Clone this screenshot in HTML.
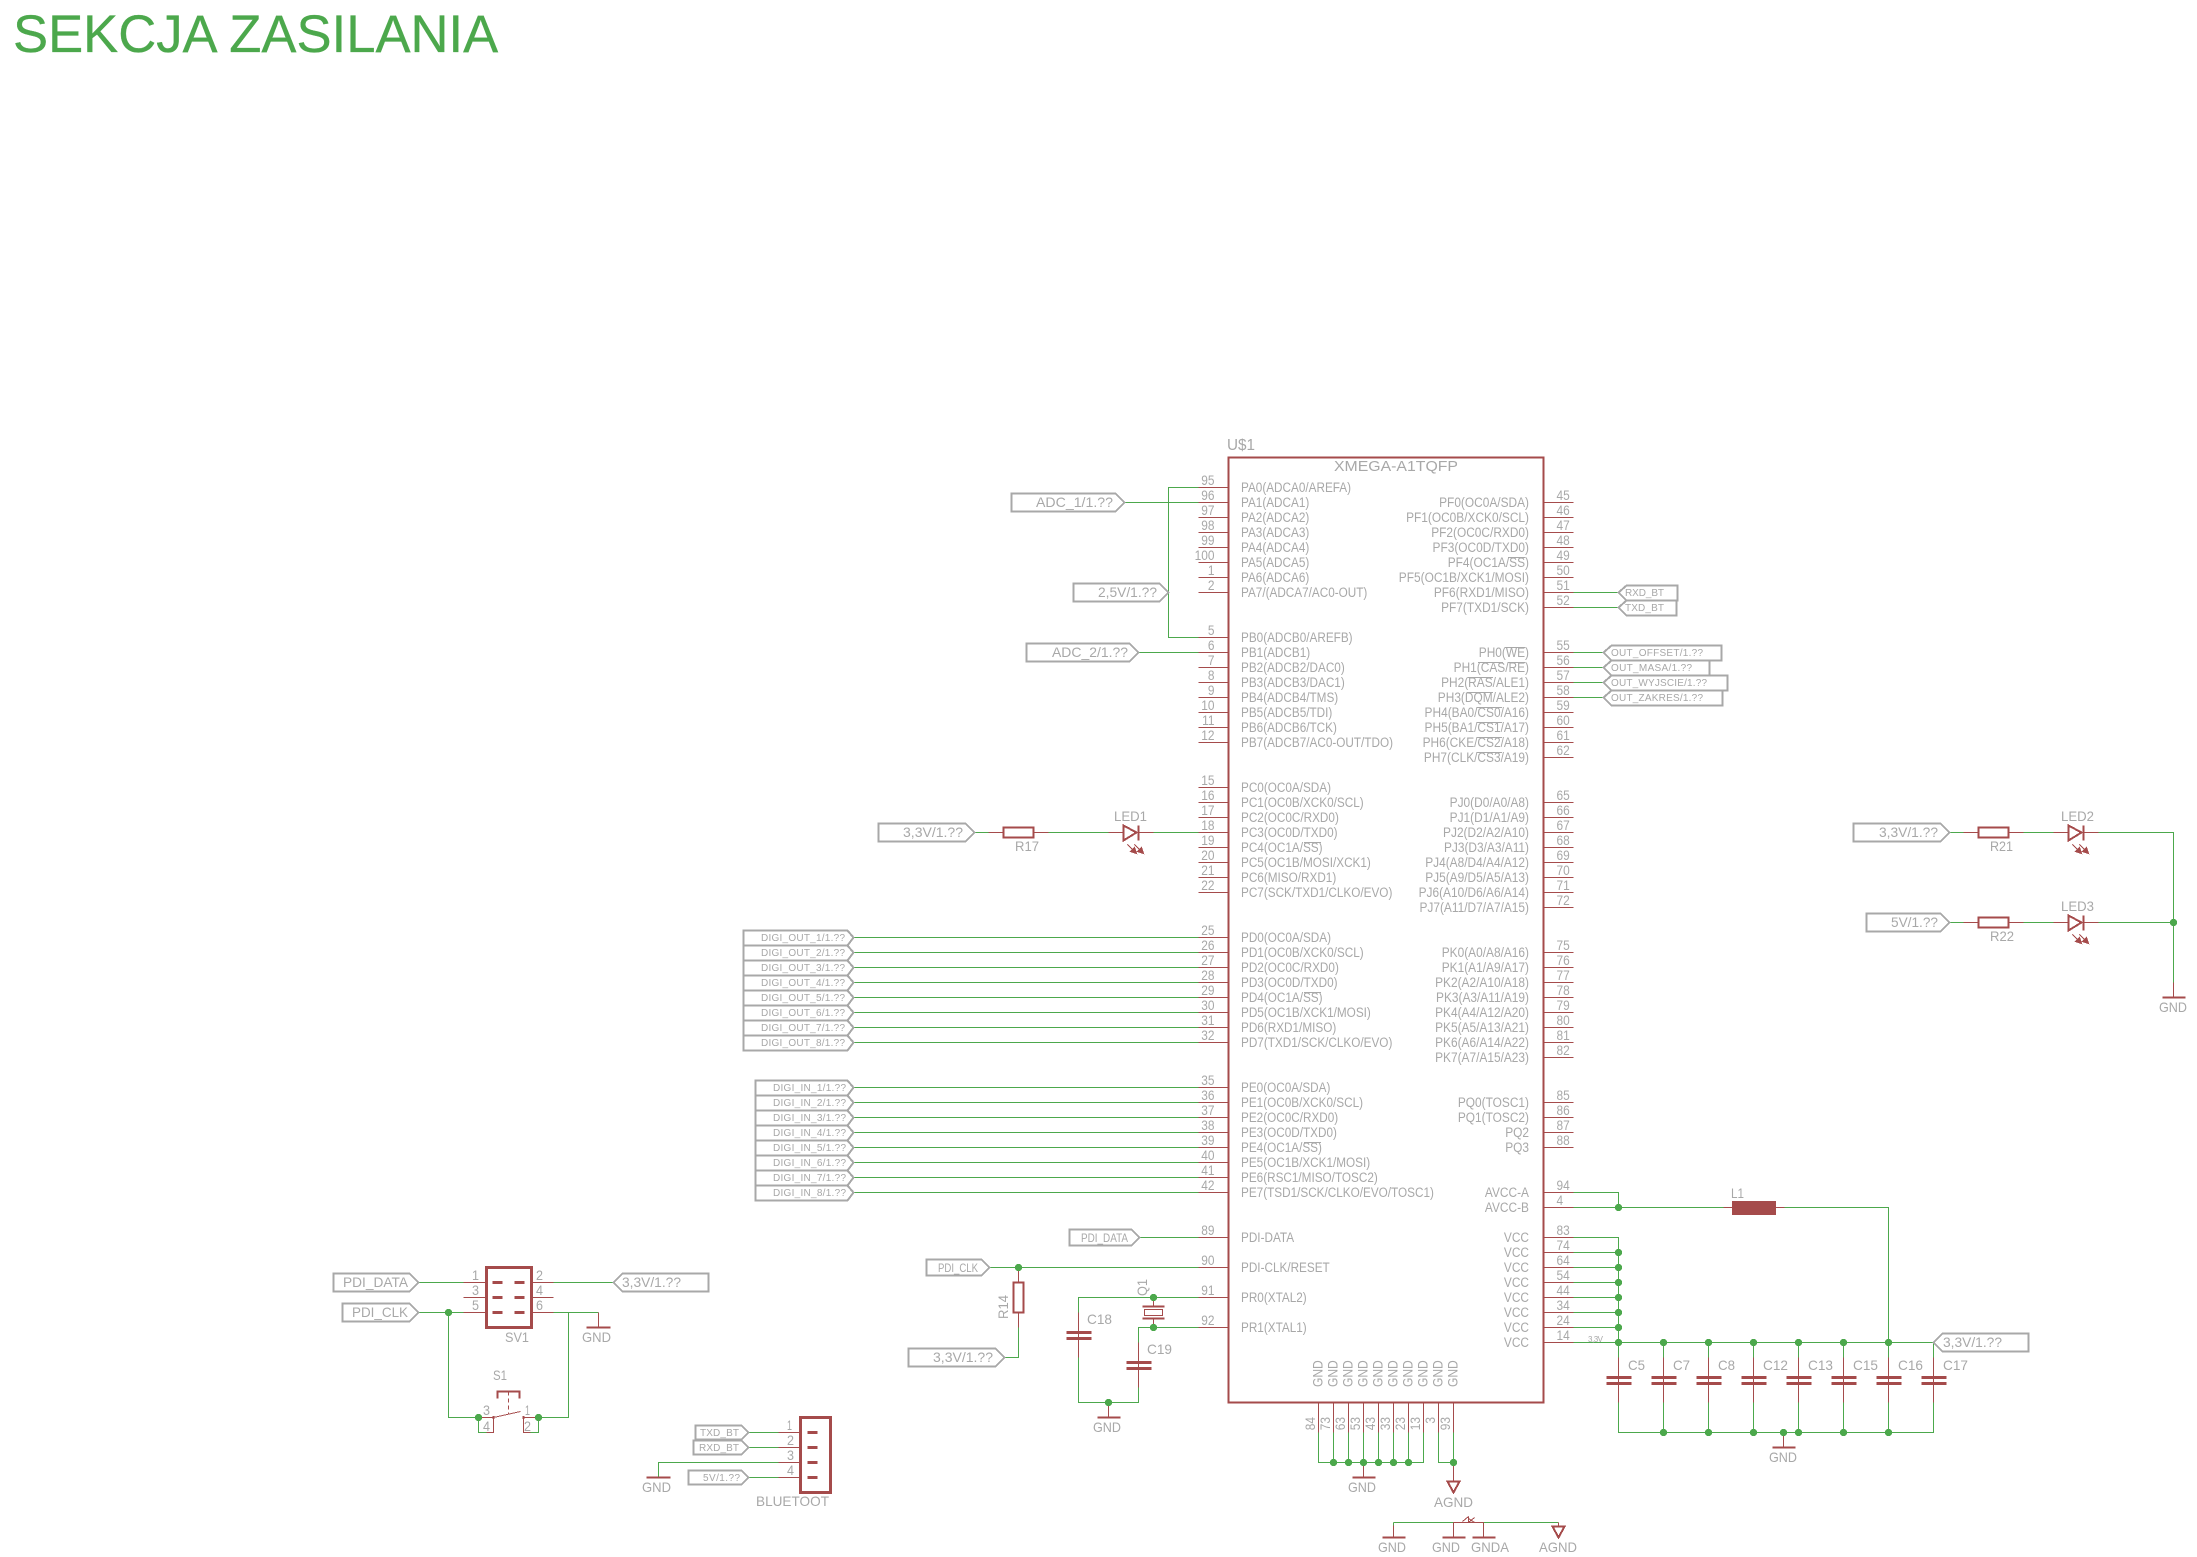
<!DOCTYPE html>
<html><head><meta charset="utf-8"><style>
html,body{margin:0;padding:0;background:#fff;width:2197px;height:1557px;overflow:hidden}
svg{display:block;font-family:"Liberation Sans",sans-serif}
text{fill:#a8a8a8;stroke:none;font-size:14px}
.s{font-size:10px}.m{font-size:12px}.b{font-size:15px}
</style></head><body>
<svg width="2197" height="1557" viewBox="0 0 2197 1557" xmlns="http://www.w3.org/2000/svg">
<text x="13" y="52" style="font-size:52.6px;fill:#4ca84c;stroke:#4ca84c;stroke-width:.3">SEKCJA ZASILANIA</text>
<g transform="translate(.5 .5)">

<!-- green wires -->
<g fill="none" stroke="#4ca84c" stroke-width="1" shape-rendering="crispEdges">
<path d="M1198 487H1168V637H1198M1124 502H1198M1138 652H1198M974 832H988M1048 832H1108M1153 832H1198"/>
<path d="M853 937H1198M853 952H1198M853 967H1198M853 982H1198M853 997H1198M853 1012H1198M853 1027H1198M853 1042H1198"/>
<path d="M853 1087H1198M853 1102H1198M853 1117H1198M853 1132H1198M853 1147H1198M853 1162H1198M853 1177H1198M853 1192H1198"/>
<path d="M1139 1237H1198M989 1267H1198M1018 1327V1357H1004M1078 1312V1297H1198M1078 1357V1402H1138V1387M1138 1342V1327H1198"/>
<path d="M1573 592H1618M1573 607H1618M1573 652H1603M1573 667H1603M1573 682H1603M1573 697H1603"/>
<path d="M1573 1192H1618V1207M1573 1207H1723M1784 1207H1888V1342"/>
<path d="M1573 1237H1618V1342M1573 1252H1618M1573 1267H1618M1573 1282H1618M1573 1297H1618M1573 1312H1618M1573 1327H1618M1573 1342H1933"/>
<path d="M1618 1342V1357M1663 1342V1357M1708 1342V1357M1753 1342V1357M1798 1342V1357M1843 1342V1357M1888 1342V1357M1933 1342V1357"/>
<path d="M1618 1402V1432H1933V1402M1663 1402V1432M1708 1402V1432M1753 1402V1432M1798 1402V1432M1843 1402V1432M1888 1402V1432"/>
<path d="M1318 1432V1462H1423V1432M1333 1432V1462M1348 1432V1462M1363 1432V1462M1378 1432V1462M1393 1432V1462M1408 1432V1462"/>
<path d="M1438 1432V1462H1453M1453 1432V1481"/>
<path d="M1393 1522H1558M1393 1522V1525"/>
<path d="M1949 832H1963M2023 832H2053M2098 832H2173V982M1949 922H1963M2023 922H2053M2098 922H2173"/>
<path d="M418 1282H463M553 1282H613M418 1312H463M553 1312H598M568 1312V1417H538M448 1312V1417H493M478 1417V1432H486M538 1417V1432H530"/>
<path d="M748 1432H778M748 1447H778M748 1477H778M778 1462H658V1477"/>
</g>

<!-- red pins & symbols -->
<g fill="none" stroke="#a54b4b" stroke-width="1" shape-rendering="crispEdges">
<path d="M1198 487h30M1198 502h30M1198 517h30M1198 532h30M1198 547h30M1198 562h30M1198 577h30M1198 592h30
M1198 637h30M1198 652h30M1198 667h30M1198 682h30M1198 697h30M1198 712h30M1198 727h30M1198 742h30
M1198 787h30M1198 802h30M1198 817h30M1198 832h30M1198 847h30M1198 862h30M1198 877h30M1198 892h30
M1198 937h30M1198 952h30M1198 967h30M1198 982h30M1198 997h30M1198 1012h30M1198 1027h30M1198 1042h30
M1198 1087h30M1198 1102h30M1198 1117h30M1198 1132h30M1198 1147h30M1198 1162h30M1198 1177h30M1198 1192h30
M1198 1237h30M1198 1267h30M1198 1297h30M1198 1327h30"/>
<path d="M1543 502h30M1543 517h30M1543 532h30M1543 547h30M1543 562h30M1543 577h30M1543 592h30M1543 607h30
M1543 652h30M1543 667h30M1543 682h30M1543 697h30M1543 712h30M1543 727h30M1543 742h30M1543 757h30
M1543 802h30M1543 817h30M1543 832h30M1543 847h30M1543 862h30M1543 877h30M1543 892h30M1543 907h30
M1543 952h30M1543 967h30M1543 982h30M1543 997h30M1543 1012h30M1543 1027h30M1543 1042h30M1543 1057h30
M1543 1102h30M1543 1117h30M1543 1132h30M1543 1147h30M1543 1192h30M1543 1207h30
M1543 1237h30M1543 1252h30M1543 1267h30M1543 1282h30M1543 1297h30M1543 1312h30M1543 1327h30M1543 1342h30"/>
<path d="M1318 1402v30M1333 1402v30M1348 1402v30M1363 1402v30M1378 1402v30M1393 1402v30M1408 1402v30M1423 1402v30M1438 1402v30M1453 1402v30"/>
<rect x="1228" y="457" width="315" height="945" stroke-width="2"/>
<!-- GND symbols -->
<path d="M1363 1462V1477M1393 1525V1537M1453 1522V1537M1483 1522V1537M1108 1402V1417M1783 1432V1447M598 1312V1327M2173 982V997"/>
<path stroke-width="2" d="M1352 1477H1375M1382 1537H1405M1442 1537H1465M1472 1537H1495M1097 1417H1120M1772 1447H1795M586 1327H610M646 1477H670M2162 997H2185"/>
<!-- AGND -->
<path stroke-width="2" d="M1447 1481H1459L1453 1492ZM1552 1526H1564L1558 1537Z"/>
<path d="M1558 1522V1526M1453 1462V1481"/>
<!-- net bridge star -->
<path d="M1453 1522H1483M1462 1521L1468 1516M1468 1516V1522M1468 1518L1474 1522M1474 1517L1468 1522"/>
<!-- caps -->
<path d="M1618 1357V1402M1663 1357V1402M1708 1357V1402M1753 1357V1402M1798 1357V1402M1843 1357V1402M1888 1357V1402M1933 1357V1402M1078 1312V1357M1138 1342V1387"/>
<path stroke-width="3" d="M1606 1377h25M1606 1383h25M1651 1377h25M1651 1383h25M1696 1377h25M1696 1383h25M1741 1377h25M1741 1383h25M1786 1377h25M1786 1383h25M1831 1377h25M1831 1383h25M1876 1377h25M1876 1383h25M1921 1377h25M1921 1383h25M1066 1332h25M1066 1338h25M1126 1362h25M1126 1368h25"/>
<!-- L1 -->
<path d="M1723 1207H1732M1775 1207H1784"/>
<rect x="1732" y="1201" width="43" height="13" fill="#a54b4b"/>
<!-- R14 -->
<path d="M1018 1267V1282M1018 1312V1327"/>
<rect x="1013" y="1282" width="10" height="30" stroke-width="2"/>
<!-- Q1 -->
<path d="M1153 1297V1306M1153 1318V1327"/>
<path stroke-width="2" d="M1142 1306H1164M1142 1318H1164"/>
<rect x="1144" y="1309" width="18" height="6"/>
<!-- R17 / LED1 -->
<path d="M988 832H1003M1033 832H1048M1108 832H1123M1138 832H1153"/>
<rect x="1003" y="827" width="30" height="10" stroke-width="2"/>
<path stroke-width="2" d="M1123 825V840L1136 832ZM1138 825V840"/>
<path d="M1127 844L1134 851M1134 844L1141 851"/>
<path fill="#a54b4b" d="M1136 853L1130 851L1134 847ZM1143 853L1137 851L1141 847Z"/>
<!-- R21 / LED2 -->
<path d="M1963 832H1978M2008 832H2023M2053 832H2068M2083 832H2098"/>
<rect x="1978" y="827" width="30" height="10" stroke-width="2"/>
<path stroke-width="2" d="M2068 825V840L2081 832ZM2083 825V840"/>
<path d="M2072 844L2079 851M2079 844L2086 851"/>
<path fill="#a54b4b" d="M2081 853L2075 851L2079 847ZM2088 853L2082 851L2086 847Z"/>
<!-- R22 / LED3 -->
<path d="M1963 922H1978M2008 922H2023M2053 922H2068M2083 922H2098"/>
<rect x="1978" y="917" width="30" height="10" stroke-width="2"/>
<path stroke-width="2" d="M2068 915V930L2081 922ZM2083 915V930"/>
<path d="M2072 934L2079 941M2079 934L2086 941"/>
<path fill="#a54b4b" d="M2081 943L2075 941L2079 937ZM2088 943L2082 941L2086 937Z"/>
<!-- SV1 -->
<rect x="486" y="1267" width="45" height="60" stroke-width="3"/>
<path d="M463 1282H486M463 1297H486M463 1312H486M531 1282H553M531 1297H553M531 1312H553"/>
<path stroke-width="3" d="M492 1282h10M492 1297h10M492 1312h10M514 1282h10M514 1297h10M514 1312h10"/>
<!-- S1 -->
<path d="M478 1417H493M493 1417V1432H486M523 1417H538M523 1417V1432H530M493 1417L520 1411" />
<path stroke-width="2" d="M497 1398V1391H519V1398"/>
<path stroke-dasharray="4 3" d="M508 1391V1413"/>
<path stroke-width="3" d="M492 1417h2M522 1417h2"/>
<!-- Bluetooth -->
<rect x="800" y="1417" width="30" height="75" stroke-width="3"/>
<path d="M778 1432H800M778 1447H800M778 1462H800M778 1477H800"/>
<path stroke-width="3" d="M807 1432h10M807 1447h10M807 1462h10M807 1477h10"/>
</g>

<!-- junctions -->
<g fill="#4ca84c" shape-rendering="crispEdges">
<circle cx="1018" cy="1267" r="3.7"/><circle cx="1153" cy="1297" r="3.7"/><circle cx="1153" cy="1327" r="3.7"/><circle cx="1108" cy="1402" r="3.7"/>
<circle cx="1618" cy="1207" r="3.7"/><circle cx="1618" cy="1252" r="3.7"/><circle cx="1618" cy="1267" r="3.7"/><circle cx="1618" cy="1282" r="3.7"/><circle cx="1618" cy="1297" r="3.7"/><circle cx="1618" cy="1312" r="3.7"/><circle cx="1618" cy="1327" r="3.7"/><circle cx="1618" cy="1342" r="3.7"/>
<circle cx="1663" cy="1342" r="3.7"/><circle cx="1708" cy="1342" r="3.7"/><circle cx="1753" cy="1342" r="3.7"/><circle cx="1798" cy="1342" r="3.7"/><circle cx="1843" cy="1342" r="3.7"/><circle cx="1888" cy="1342" r="3.7"/>
<circle cx="1663" cy="1432" r="3.7"/><circle cx="1708" cy="1432" r="3.7"/><circle cx="1753" cy="1432" r="3.7"/><circle cx="1783" cy="1432" r="3.7"/><circle cx="1798" cy="1432" r="3.7"/><circle cx="1843" cy="1432" r="3.7"/><circle cx="1888" cy="1432" r="3.7"/>
<circle cx="1333" cy="1462" r="3.7"/><circle cx="1348" cy="1462" r="3.7"/><circle cx="1363" cy="1462" r="3.7"/><circle cx="1378" cy="1462" r="3.7"/><circle cx="1393" cy="1462" r="3.7"/><circle cx="1408" cy="1462" r="3.7"/><circle cx="1453" cy="1462" r="3.7"/>
<circle cx="2173" cy="922" r="3.7"/><circle cx="448" cy="1312" r="3.7"/><circle cx="478" cy="1417" r="3.7"/><circle cx="538" cy="1417" r="3.7"/>
</g>

<!-- tags -->
<g fill="#fff" stroke="#a8a8a8" stroke-width="2" shape-rendering="crispEdges">
<path d="M1011 493H1115L1124 502L1115 511H1011Z"/>
<path d="M1073 583H1159L1168 592L1159 601H1073Z"/>
<path d="M1026 643H1129L1138 652L1129 661H1026Z"/>
<path d="M878 823H965L974 832L965 841H878Z"/>
<path d="M1069 1229H1131L1139 1237L1131 1245H1069Z"/>
<path d="M926 1259H981L989 1267L981 1275H926Z"/>
<path d="M908 1348H995L1004 1357L995 1366H908Z"/>
<path d="M333 1273H409L418 1282L409 1291H333Z"/>
<path d="M342 1303H409L418 1312L409 1321H342Z"/>
<path d="M613 1282L622 1273H708V1291H622Z"/>
<path d="M695 1425H741L748 1432L741 1439H695Z"/>
<path d="M693 1440H741L748 1447L741 1454H693Z"/>
<path d="M688 1470H741L748 1477L741 1484H688Z"/>
<path d="M1618 592L1626 585H1677V600H1626Z"/>
<path d="M1618 607L1626 600H1676V615H1626Z"/>
<path d="M1603 652L1611 645H1721V660H1611Z"/>
<path d="M1603 667L1611 660H1709V675H1611Z"/>
<path d="M1603 682L1611 675H1727V690H1611Z"/>
<path d="M1603 697L1611 690H1722V705H1611Z"/>
<path d="M1933 1342L1942 1333H2028V1351H1942Z"/>
<path d="M1853 823H1940L1949 832L1940 841H1853Z"/>
<path d="M1866 913H1940L1949 922L1940 931H1866Z"/>
<path d="M743 930H847L853 937L847 945H743Z"/><path d="M743 945H847L853 952L847 960H743Z"/><path d="M743 960H847L853 967L847 975H743Z"/><path d="M743 975H847L853 982L847 990H743Z"/><path d="M743 990H847L853 997L847 1005H743Z"/><path d="M743 1005H847L853 1012L847 1020H743Z"/><path d="M743 1020H847L853 1027L847 1035H743Z"/><path d="M743 1035H847L853 1042L847 1050H743Z"/>
<path d="M755 1080H847L853 1087L847 1095H755Z"/><path d="M755 1095H847L853 1102L847 1110H755Z"/><path d="M755 1110H847L853 1117L847 1125H755Z"/><path d="M755 1125H847L853 1132L847 1140H755Z"/><path d="M755 1140H847L853 1147L847 1155H755Z"/><path d="M755 1155H847L853 1162L847 1170H755Z"/><path d="M755 1170H847L853 1177L847 1185H755Z"/><path d="M755 1185H847L853 1192L847 1200H755Z"/>
</g>
</g>

<!-- overbars -->
<path fill="none" stroke="#a8a8a8" stroke-width="1" shape-rendering="crispEdges" d="M1304 842.5H1321M1304 992.5H1321M1304 1142.5H1321M1508 557.5H1525M1505 647.5H1525M1478 662.5H1503M1508 662.5H1525M1468 677.5H1493M1467 692.5H1493M1477 707.5H1502M1477 722.5H1502M1477 737.5H1502M1477 752.5H1502"/>

<!-- tag text -->
<g>
<text x="1036" y="507" textLength="77" lengthAdjust="spacingAndGlyphs">ADC_1/1.??</text>
<text x="1098" y="597" textLength="59" lengthAdjust="spacingAndGlyphs">2,5V/1.??</text>
<text x="1052" y="657" textLength="76" lengthAdjust="spacingAndGlyphs">ADC_2/1.??</text>
<text x="903" y="837" textLength="60" lengthAdjust="spacingAndGlyphs">3,3V/1.??</text>
<text class="m" x="1081" y="1242" textLength="47" lengthAdjust="spacingAndGlyphs">PDI_DATA</text>
<text class="m" x="938" y="1272" textLength="40" lengthAdjust="spacingAndGlyphs">PDI_CLK</text>
<text x="933" y="1362" textLength="60" lengthAdjust="spacingAndGlyphs">3,3V/1.??</text>
<text x="343" y="1287" textLength="65" lengthAdjust="spacingAndGlyphs">PDI_DATA</text>
<text x="352" y="1317" textLength="56" lengthAdjust="spacingAndGlyphs">PDI_CLK</text>
<text x="622" y="1287" textLength="59" lengthAdjust="spacingAndGlyphs">3,3V/1.??</text>
<text class="s" x="700" y="1436" textLength="39">TXD_BT</text>
<text class="s" x="699" y="1451" textLength="40">RXD_BT</text>
<text class="s" x="703" y="1481" textLength="37">5V/1.??</text>
<text class="s" x="1625" y="596" textLength="39">RXD_BT</text>
<text class="s" x="1625" y="611" textLength="39">TXD_BT</text>
<text class="s" x="1611" y="656" textLength="92">OUT_OFFSET/1.??</text>
<text class="s" x="1611" y="671" textLength="81">OUT_MASA/1.??</text>
<text class="s" x="1611" y="686" textLength="96">OUT_WYJSCIE/1.??</text>
<text class="s" x="1611" y="701" textLength="92">OUT_ZAKRES/1.??</text>
<text x="1943" y="1347" textLength="59" lengthAdjust="spacingAndGlyphs">3,3V/1.??</text>
<text x="1879" y="837" textLength="59" lengthAdjust="spacingAndGlyphs">3,3V/1.??</text>
<text x="1891" y="927" textLength="47" lengthAdjust="spacingAndGlyphs">5V/1.??</text>
<text class="s" x="761" y="941" textLength="84">DIGI_OUT_1/1.??</text>
<text class="s" x="761" y="956" textLength="84">DIGI_OUT_2/1.??</text>
<text class="s" x="761" y="971" textLength="84">DIGI_OUT_3/1.??</text>
<text class="s" x="761" y="986" textLength="84">DIGI_OUT_4/1.??</text>
<text class="s" x="761" y="1001" textLength="84">DIGI_OUT_5/1.??</text>
<text class="s" x="761" y="1016" textLength="84">DIGI_OUT_6/1.??</text>
<text class="s" x="761" y="1031" textLength="84">DIGI_OUT_7/1.??</text>
<text class="s" x="761" y="1046" textLength="84">DIGI_OUT_8/1.??</text>
<text class="s" x="773" y="1091" textLength="73">DIGI_IN_1/1.??</text>
<text class="s" x="773" y="1106" textLength="73">DIGI_IN_2/1.??</text>
<text class="s" x="773" y="1121" textLength="73">DIGI_IN_3/1.??</text>
<text class="s" x="773" y="1136" textLength="73">DIGI_IN_4/1.??</text>
<text class="s" x="773" y="1151" textLength="73">DIGI_IN_5/1.??</text>
<text class="s" x="773" y="1166" textLength="73">DIGI_IN_6/1.??</text>
<text class="s" x="773" y="1181" textLength="73">DIGI_IN_7/1.??</text>
<text class="s" x="773" y="1196" textLength="73">DIGI_IN_8/1.??</text>
</g>

<!-- component labels -->
<g>
<text style="font-size:16px" x="1227" y="450" textLength="28" lengthAdjust="spacingAndGlyphs">U$1</text>
<text class="b" x="1334" y="471" textLength="124" lengthAdjust="spacingAndGlyphs">XMEGA-A1TQFP</text>
<text x="1015" y="851" textLength="24" lengthAdjust="spacingAndGlyphs">R17</text>
<text x="1114" y="821" textLength="33" lengthAdjust="spacingAndGlyphs">LED1</text>
<text x="1990" y="851" textLength="23" lengthAdjust="spacingAndGlyphs">R21</text>
<text x="2061" y="821" textLength="33" lengthAdjust="spacingAndGlyphs">LED2</text>
<text x="1990" y="941" textLength="24" lengthAdjust="spacingAndGlyphs">R22</text>
<text x="2061" y="911" textLength="33" lengthAdjust="spacingAndGlyphs">LED3</text>
<text x="1731" y="1198" textLength="13" lengthAdjust="spacingAndGlyphs">L1</text>
<text x="1087" y="1324" textLength="25" lengthAdjust="spacingAndGlyphs">C18</text>
<text x="1147" y="1354" textLength="25" lengthAdjust="spacingAndGlyphs">C19</text>
<text transform="translate(1008 1319) rotate(-90)" textLength="24" lengthAdjust="spacingAndGlyphs">R14</text>
<text transform="translate(1147 1296) rotate(-90)" textLength="17" lengthAdjust="spacingAndGlyphs">Q1</text>
<text x="1628" y="1370" textLength="17" lengthAdjust="spacingAndGlyphs">C5</text>
<text x="1673" y="1370" textLength="17" lengthAdjust="spacingAndGlyphs">C7</text>
<text x="1718" y="1370" textLength="17" lengthAdjust="spacingAndGlyphs">C8</text>
<text x="1763" y="1370" textLength="25" lengthAdjust="spacingAndGlyphs">C12</text>
<text x="1808" y="1370" textLength="25" lengthAdjust="spacingAndGlyphs">C13</text>
<text x="1853" y="1370" textLength="25" lengthAdjust="spacingAndGlyphs">C15</text>
<text x="1898" y="1370" textLength="25" lengthAdjust="spacingAndGlyphs">C16</text>
<text x="1943" y="1370" textLength="25" lengthAdjust="spacingAndGlyphs">C17</text>
<text x="1093" y="1432" textLength="28" lengthAdjust="spacingAndGlyphs">GND</text>
<text x="1769" y="1462" textLength="28" lengthAdjust="spacingAndGlyphs">GND</text>
<text x="1348" y="1492" textLength="28" lengthAdjust="spacingAndGlyphs">GND</text>
<text x="1434" y="1507" textLength="39" lengthAdjust="spacingAndGlyphs">AGND</text>
<text x="1378" y="1552" textLength="28" lengthAdjust="spacingAndGlyphs">GND</text>
<text x="1432" y="1552" textLength="28" lengthAdjust="spacingAndGlyphs">GND</text>
<text x="1471" y="1552" textLength="38" lengthAdjust="spacingAndGlyphs">GNDA</text>
<text x="1539" y="1552" textLength="38" lengthAdjust="spacingAndGlyphs">AGND</text>
<text x="2159" y="1012" textLength="28" lengthAdjust="spacingAndGlyphs">GND</text>
<text x="582" y="1342" textLength="29" lengthAdjust="spacingAndGlyphs">GND</text>
<text x="642" y="1492" textLength="29" lengthAdjust="spacingAndGlyphs">GND</text>
<text x="505" y="1342" textLength="24" lengthAdjust="spacingAndGlyphs">SV1</text>
<text x="493" y="1380" textLength="14" lengthAdjust="spacingAndGlyphs">S1</text>
<text x="756" y="1506" textLength="73" lengthAdjust="spacingAndGlyphs">BLUETOOT</text>
<text x="1588" y="1342" style="font-size:8px" textLength="15">3,3V</text>
<text x="472" y="1280" textLength="7" lengthAdjust="spacingAndGlyphs">1</text>
<text x="472" y="1295" textLength="7" lengthAdjust="spacingAndGlyphs">3</text>
<text x="472" y="1310" textLength="7" lengthAdjust="spacingAndGlyphs">5</text>
<text x="536" y="1280" textLength="7" lengthAdjust="spacingAndGlyphs">2</text>
<text x="536" y="1295" textLength="7" lengthAdjust="spacingAndGlyphs">4</text>
<text x="536" y="1310" textLength="7" lengthAdjust="spacingAndGlyphs">6</text>
<text x="483" y="1415" textLength="7" lengthAdjust="spacingAndGlyphs">3</text>
<text x="483" y="1431" textLength="7" lengthAdjust="spacingAndGlyphs">4</text>
<text x="525" y="1415" textLength="5" lengthAdjust="spacingAndGlyphs">1</text>
<text x="524" y="1431" textLength="7" lengthAdjust="spacingAndGlyphs">2</text>
<text x="787" y="1430" textLength="5" lengthAdjust="spacingAndGlyphs">1</text>
<text x="787" y="1445" textLength="7" lengthAdjust="spacingAndGlyphs">2</text>
<text x="787" y="1460" textLength="7" lengthAdjust="spacingAndGlyphs">3</text>
<text x="787" y="1475" textLength="7" lengthAdjust="spacingAndGlyphs">4</text>
</g>

<!-- left chip labels -->
<g transform="translate(1241 0) scale(.84 1)">
<text y="492">PA0(ADCA0/AREFA)</text><text y="507">PA1(ADCA1)</text><text y="522">PA2(ADCA2)</text><text y="537">PA3(ADCA3)</text><text y="552">PA4(ADCA4)</text><text y="567">PA5(ADCA5)</text><text y="582">PA6(ADCA6)</text><text y="597">PA7/(ADCA7/AC0-OUT)</text>
<text y="642">PB0(ADCB0/AREFB)</text><text y="657">PB1(ADCB1)</text><text y="672">PB2(ADCB2/DAC0)</text><text y="687">PB3(ADCB3/DAC1)</text><text y="702">PB4(ADCB4/TMS)</text><text y="717">PB5(ADCB5/TDI)</text><text y="732">PB6(ADCB6/TCK)</text><text y="747">PB7(ADCB7/AC0-OUT/TDO)</text>
<text y="792">PC0(OC0A/SDA)</text><text y="807">PC1(OC0B/XCK0/SCL)</text><text y="822">PC2(OC0C/RXD0)</text><text y="837">PC3(OC0D/TXD0)</text><text y="852">PC4(OC1A/SS)</text><text y="867">PC5(OC1B/MOSI/XCK1)</text><text y="882">PC6(MISO/RXD1)</text><text y="897">PC7(SCK/TXD1/CLKO/EVO)</text>
<text y="942">PD0(OC0A/SDA)</text><text y="957">PD1(OC0B/XCK0/SCL)</text><text y="972">PD2(OC0C/RXD0)</text><text y="987">PD3(OC0D/TXD0)</text><text y="1002">PD4(OC1A/SS)</text><text y="1017">PD5(OC1B/XCK1/MOSI)</text><text y="1032">PD6(RXD1/MISO)</text><text y="1047">PD7(TXD1/SCK/CLKO/EVO)</text>
<text y="1092">PE0(OC0A/SDA)</text><text y="1107">PE1(OC0B/XCK0/SCL)</text><text y="1122">PE2(OC0C/RXD0)</text><text y="1137">PE3(OC0D/TXD0)</text><text y="1152">PE4(OC1A/SS)</text><text y="1167">PE5(OC1B/XCK1/MOSI)</text><text y="1182">PE6(RSC1/MISO/TOSC2)</text><text y="1197">PE7(TSD1/SCK/CLKO/EVO/TOSC1)</text>
<text y="1242">PDI-DATA</text><text y="1272">PDI-CLK/RESET</text><text y="1302">PR0(XTAL2)</text><text y="1332">PR1(XTAL1)</text>
</g>

<!-- right chip labels -->
<g transform="translate(1529 0) scale(.85 1)" text-anchor="end">
<text y="507">PF0(OC0A/SDA)</text><text y="522">PF1(OC0B/XCK0/SCL)</text><text y="537">PF2(OC0C/RXD0)</text><text y="552">PF3(OC0D/TXD0)</text><text y="567">PF4(OC1A/SS)</text><text y="582">PF5(OC1B/XCK1/MOSI)</text><text y="597">PF6(RXD1/MISO)</text><text y="612">PF7(TXD1/SCK)</text>
<text y="657">PH0(WE)</text><text y="672">PH1(CAS/RE)</text><text y="687">PH2(RAS/ALE1)</text><text y="702">PH3(DQM/ALE2)</text><text y="717">PH4(BA0/CS0/A16)</text><text y="732">PH5(BA1/CS1/A17)</text><text y="747">PH6(CKE/CS2/A18)</text><text y="762">PH7(CLK/CS3/A19)</text>
<text y="807">PJ0(D0/A0/A8)</text><text y="822">PJ1(D1/A1/A9)</text><text y="837">PJ2(D2/A2/A10)</text><text y="852">PJ3(D3/A3/A11)</text><text y="867">PJ4(A8/D4/A4/A12)</text><text y="882">PJ5(A9/D5/A5/A13)</text><text y="897">PJ6(A10/D6/A6/A14)</text><text y="912">PJ7(A11/D7/A7/A15)</text>
<text y="957">PK0(A0/A8/A16)</text><text y="972">PK1(A1/A9/A17)</text><text y="987">PK2(A2/A10/A18)</text><text y="1002">PK3(A3/A11/A19)</text><text y="1017">PK4(A4/A12/A20)</text><text y="1032">PK5(A5/A13/A21)</text><text y="1047">PK6(A6/A14/A22)</text><text y="1062">PK7(A7/A15/A23)</text>
<text y="1107">PQ0(TOSC1)</text><text y="1122">PQ1(TOSC2)</text><text y="1137">PQ2</text><text y="1152">PQ3</text>
<text y="1197">AVCC-A</text><text y="1212">AVCC-B</text>
<text y="1242">VCC</text><text y="1257">VCC</text><text y="1272">VCC</text><text y="1287">VCC</text><text y="1302">VCC</text><text y="1317">VCC</text><text y="1332">VCC</text><text y="1347">VCC</text>
</g>

<!-- left pin numbers -->
<g transform="translate(1214.5 0) scale(.85 1)" text-anchor="end">
<text y="485">95</text><text y="500">96</text><text y="515">97</text><text y="530">98</text><text y="545">99</text><text y="560">100</text><text y="575">1</text><text y="590">2</text>
<text y="635">5</text><text y="650">6</text><text y="665">7</text><text y="680">8</text><text y="695">9</text><text y="710">10</text><text y="725">11</text><text y="740">12</text>
<text y="785">15</text><text y="800">16</text><text y="815">17</text><text y="830">18</text><text y="845">19</text><text y="860">20</text><text y="875">21</text><text y="890">22</text>
<text y="935">25</text><text y="950">26</text><text y="965">27</text><text y="980">28</text><text y="995">29</text><text y="1010">30</text><text y="1025">31</text><text y="1040">32</text>
<text y="1085">35</text><text y="1100">36</text><text y="1115">37</text><text y="1130">38</text><text y="1145">39</text><text y="1160">40</text><text y="1175">41</text><text y="1190">42</text>
<text y="1235">89</text><text y="1265">90</text><text y="1295">91</text><text y="1325">92</text>
</g>

<!-- right pin numbers -->
<g transform="translate(1556.5 0) scale(.85 1)">
<text y="500">45</text><text y="515">46</text><text y="530">47</text><text y="545">48</text><text y="560">49</text><text y="575">50</text><text y="590">51</text><text y="605">52</text>
<text y="650">55</text><text y="665">56</text><text y="680">57</text><text y="695">58</text><text y="710">59</text><text y="725">60</text><text y="740">61</text><text y="755">62</text>
<text y="800">65</text><text y="815">66</text><text y="830">67</text><text y="845">68</text><text y="860">69</text><text y="875">70</text><text y="890">71</text><text y="905">72</text>
<text y="950">75</text><text y="965">76</text><text y="980">77</text><text y="995">78</text><text y="1010">79</text><text y="1025">80</text><text y="1040">81</text><text y="1055">82</text>
<text y="1100">85</text><text y="1115">86</text><text y="1130">87</text><text y="1145">88</text>
<text y="1190">94</text><text y="1205">4</text>
<text y="1235">83</text><text y="1250">74</text><text y="1265">64</text><text y="1280">54</text><text y="1295">44</text><text y="1310">34</text><text y="1325">24</text><text y="1340">14</text>
</g>

<!-- rotated GND inside chip -->
<g>
<text transform="translate(1322.5 1387) rotate(-90) scale(.86 1)">GND</text>
<text transform="translate(1337.5 1387) rotate(-90) scale(.86 1)">GND</text>
<text transform="translate(1352.5 1387) rotate(-90) scale(.86 1)">GND</text>
<text transform="translate(1367.5 1387) rotate(-90) scale(.86 1)">GND</text>
<text transform="translate(1382.5 1387) rotate(-90) scale(.86 1)">GND</text>
<text transform="translate(1397.5 1387) rotate(-90) scale(.86 1)">GND</text>
<text transform="translate(1412.5 1387) rotate(-90) scale(.86 1)">GND</text>
<text transform="translate(1427.5 1387) rotate(-90) scale(.86 1)">GND</text>
<text transform="translate(1442.5 1387) rotate(-90) scale(.86 1)">GND</text>
<text transform="translate(1457.5 1387) rotate(-90) scale(.86 1)">GND</text>
</g>
<g text-anchor="end">
<text transform="translate(1315 1417) rotate(-90) scale(.85 1)">84</text>
<text transform="translate(1330 1417) rotate(-90) scale(.85 1)">73</text>
<text transform="translate(1345 1417) rotate(-90) scale(.85 1)">63</text>
<text transform="translate(1360 1417) rotate(-90) scale(.85 1)">53</text>
<text transform="translate(1375 1417) rotate(-90) scale(.85 1)">43</text>
<text transform="translate(1390 1417) rotate(-90) scale(.85 1)">33</text>
<text transform="translate(1405 1417) rotate(-90) scale(.85 1)">23</text>
<text transform="translate(1420 1417) rotate(-90) scale(.85 1)">13</text>
<text transform="translate(1435 1417) rotate(-90) scale(.85 1)">3</text>
<text transform="translate(1450 1417) rotate(-90) scale(.85 1)">93</text>
</g>
</svg>
</body></html>
